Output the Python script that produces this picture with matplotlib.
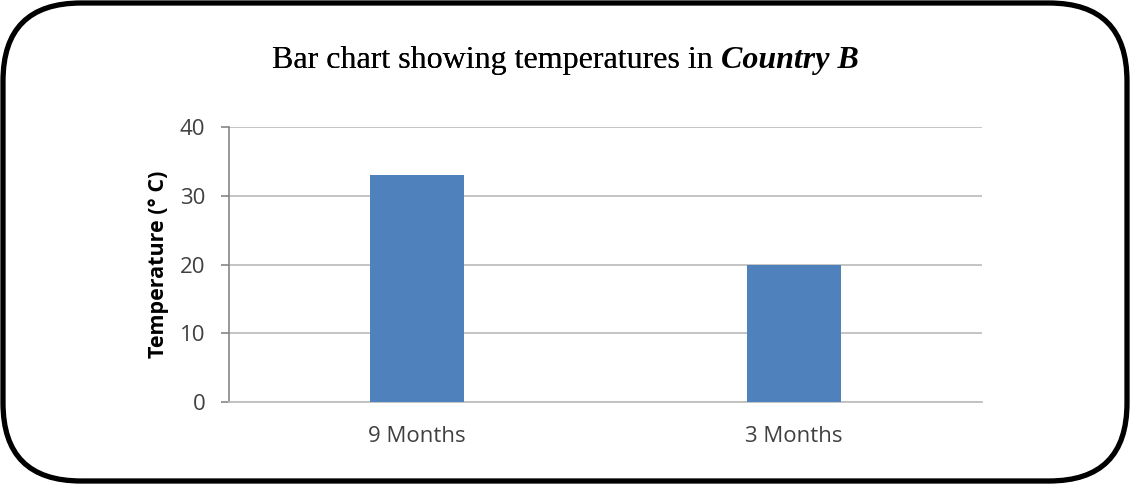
import matplotlib.pyplot as plt
from matplotlib.patches import FancyBboxPatch

categories = ["9 Months", "3 Months"]
temperatures = [33, 20]
y_ticks = [0, 10, 20, 30, 40]

BAR_COLOR = "#4f81bd"
GRID_COLOR = "#bfbfbf"
AXIS_COLOR = "#868686"
TEXT_COLOR = "#404040"

fig = plt.figure(figsize=(11.3, 4.86), dpi=100)
fig.patch.set_facecolor("white")

# rounded black frame round the whole picture
frame = FancyBboxPatch(
    (0.03, 0.05), 11.24, 4.78,
    boxstyle="round,pad=0,rounding_size=0.78",
    transform=fig.dpi_scale_trans, facecolor="none",
    edgecolor="black", linewidth=3.8,
)
fig.patches.append(frame)

ax = fig.add_axes([0.2027, 0.1728, 0.6664, 0.5658])
x = range(len(categories))
ax.bar(x, temperatures, width=0.25, color=BAR_COLOR, zorder=3)
ax.set_xlim(-0.5, len(categories) - 0.5)
ax.set_ylim(0, 40)
ax.set_yticks(y_ticks)
ax.set_xticks(list(x))
ax.set_xticklabels(categories)

ax.grid(True, axis="y", color=GRID_COLOR, linewidth=1.3, zorder=0)
for side in ("top", "right"):
    ax.spines[side].set_visible(False)
ax.spines["left"].set_color(AXIS_COLOR)
ax.spines["left"].set_linewidth(1.2)
ax.spines["bottom"].set_color(GRID_COLOR)
ax.spines["bottom"].set_linewidth(1.3)
ax.tick_params(axis="y", length=6, width=1.2, color=AXIS_COLOR, pad=11,
               labelsize=16, labelcolor=TEXT_COLOR)
ax.tick_params(axis="x", length=0, pad=17, labelsize=16, labelcolor=TEXT_COLOR)
for lab in ax.get_xticklabels() + ax.get_yticklabels():
    lab.set_family("Open Sans")

ax.set_ylabel("Temperature (° C)", fontsize=15.5, fontweight="bold",
              family="Open Sans", color="black", labelpad=8)

t1 = fig.text(272 / 1130, 1 - 68 / 486, "Bar chart showing temperatures in ",
              family="Liberation Serif", fontsize=23, ha="left", va="baseline")
fig.add_artist(t1)
ax.annotate("Country B", xy=(1, 0), xycoords=t1, xytext=(0, 0),
            textcoords="offset points", family="Liberation Serif",
            fontsize=23, fontweight="bold", fontstyle="italic",
            ha="left", va="bottom", annotation_clip=False)

fig.savefig("out.png", dpi=100, facecolor="white")
